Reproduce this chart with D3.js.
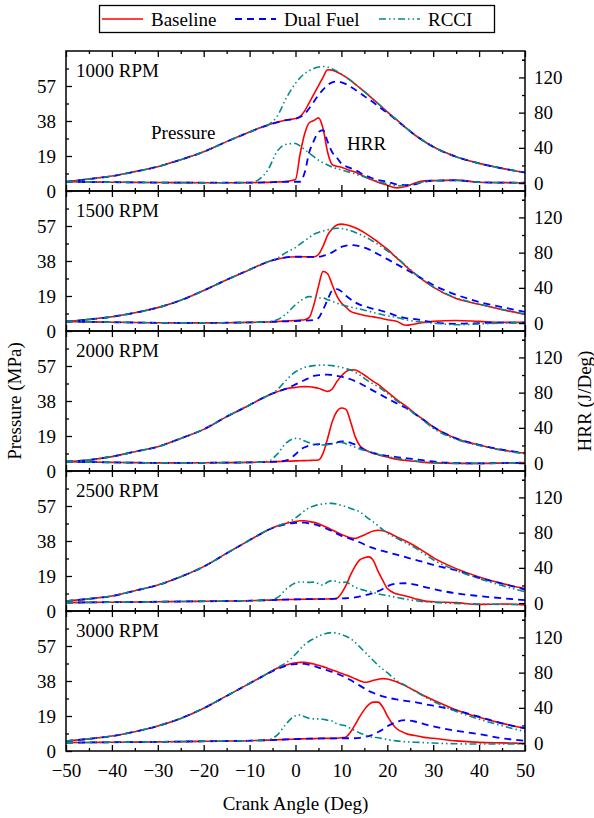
<!DOCTYPE html>
<html lang="en">
<head>
<meta charset="utf-8">
<title>Pressure and HRR</title>
<script src="https://d3js.org/d3.v7.min.js"></script>
<style>
  body { margin: 0; background: #fff; }
  svg text { font-family: "Liberation Serif", "Times New Roman", serif; fill: #000; }
</style>
</head>
<body>
<div id="chart"></div>
<script>
// Crank angle grid (deg)
const crankAngle = [-50,-45,-40,-35,-30,-25,-20,-15,-10,-8,-6,-4,-2,
  0,1,2,3,4,5,6,7,8,9,10,
  11,12,13,14,15,16,17,18,19,20,
  22,24,26,28,30,
  35,40,45,50];

const panelLabels = ["1000 RPM", "1500 RPM", "2000 RPM", "2500 RPM", "3000 RPM"];
const seriesNames = ["Baseline", "Dual Fuel", "RCCI"];
const pressureTicks = [0, 19, 38, 57];
const hrrTicks = [0, 40, 80, 120];
const angleTicks = [-50,-40,-30,-20,-10,0,10,20,30,40,50];

// ---- 1000 RPM ----
const p1000Base = [5.0,6.5,8.1,10.5,13.2,17.0,21.3,26.8,32.0,34.0,35.8,37.3,38.5,
  39.3,40.5,43.5,48.0,52.6,57.1,61.7,65.8,65.6,64.6,63.3,
  61.8,60.0,58.0,56.0,54.0,51.8,49.6,47.4,45.2,43.0,
  38.7,34.4,30.4,27.0,24.0,
  18.6,15.0,12.3,10.0];
const p1000Dual = [5.0,6.5,8.1,10.5,13.2,17.0,21.3,26.8,32.0,34.0,35.8,37.3,38.5,
  39.2,40.2,41.8,44.9,48.5,52.0,55.0,57.5,59.0,59.5,59.0,
  58.0,56.5,55.0,53.3,51.5,49.8,48.0,46.0,44.2,42.4,
  38.5,34.4,30.4,27.0,24.0,
  18.6,15.0,12.3,10.0];
const p1000Rcci = [5.0,6.5,8.1,10.5,13.2,17.0,21.3,26.8,32.0,34.0,35.8,40.5,50.5,
  58.5,61.5,63.8,65.3,66.5,67.3,67.6,67.3,66.3,65.0,63.5,
  61.8,60.0,58.0,56.0,54.0,51.8,49.6,47.4,45.2,43.0,
  38.7,34.4,30.4,27.0,24.0,
  18.6,15.0,12.3,10.0];
const h1000Base = [1.5,1.2,1.0,0.8,0.6,0.5,0.4,0.4,0.5,0.6,0.8,1.2,1.8,
  4.0,33.0,56.0,68.5,71.0,74.0,62.0,35.0,21.0,19.0,18.0,
  16.0,14.0,12.5,10.0,7.5,5.0,3.0,1.0,-0.8,-2.5,
  -5.5,-4.0,0.0,2.5,2.8,
  3.4,1.0,0.5,0.4];
const h1000Dual = [1.5,1.2,1.0,0.8,0.6,0.5,0.4,0.4,0.5,0.6,0.8,1.2,1.5,
  1.5,1.5,12.0,35.0,48.0,58.0,60.0,47.0,35.0,29.0,22.0,
  19.0,17.0,15.0,12.0,9.0,7.0,5.0,3.5,2.5,1.5,
  -1.5,-2.3,-1.5,1.5,2.7,
  3.0,1.0,0.5,0.4];
const h1000Rcci = [1.5,1.2,1.0,0.8,0.6,0.5,0.4,0.4,0.5,4.0,15.0,36.0,44.0,
  45.0,42.0,38.0,34.0,30.0,26.0,23.0,20.5,18.0,16.5,15.0,
  13.5,12.0,10.5,8.5,7.0,5.0,3.5,2.0,0.5,-1.0,
  -3.0,-3.0,-1.0,1.5,2.5,
  3.0,1.0,0.5,0.3];

// ---- 1500 RPM ----
const p1500Base = [5.0,6.3,7.7,9.9,12.7,16.7,22.0,27.8,33.3,35.5,37.6,39.0,40.0,
  40.3,40.3,40.3,40.2,40.2,41.5,46.0,52.0,55.5,57.5,58.0,
  57.7,57.0,56.0,54.8,53.4,51.8,50.0,48.3,46.4,44.4,
  39.8,35.2,31.0,27.2,23.8,
  17.6,14.5,11.6,9.0];
const p1500Dual = [5.0,6.3,7.7,9.9,12.7,16.7,22.0,27.8,33.3,35.5,37.6,39.0,40.0,
  40.3,40.3,40.3,40.2,40.2,40.3,40.8,41.5,42.7,44.2,45.7,
  46.3,46.6,46.5,46.0,45.3,44.3,43.0,41.7,40.4,39.0,
  36.3,33.5,30.7,27.8,25.0,
  19.7,15.8,13.0,10.4];
const p1500Rcci = [5.0,6.3,7.7,9.9,12.7,16.7,22.0,27.8,33.3,35.5,37.6,39.5,42.7,
  45.3,47.2,49.0,50.8,52.5,53.5,54.3,55.0,55.5,55.8,55.7,
  55.2,54.5,53.5,52.5,51.3,50.0,48.5,47.0,45.3,43.5,
  40.0,35.5,31.3,27.4,24.0,
  18.0,14.6,11.7,9.2];
const h1500Base = [1.9,1.4,1.0,0.6,0.3,0.2,0.2,0.4,0.8,1.0,1.3,1.7,2.3,
  3.0,3.4,3.8,6.4,20.8,41.7,58.7,56.0,43.6,31.0,22.7,
  18.0,13.3,11.4,10.0,8.7,7.8,7.0,6.0,5.0,3.8,
  2.0,-2.5,-1.0,0.8,1.9,
  3.0,1.9,0.8,0.8];
const h1500Dual = [1.9,1.4,1.0,0.6,0.3,0.2,0.2,0.4,0.8,1.0,1.3,1.7,2.0,
  2.3,2.5,2.7,3.0,3.5,5.7,15.0,26.5,37.0,38.5,36.0,
  31.0,27.0,23.5,21.0,19.0,17.5,16.0,15.0,13.5,12.0,
  8.3,5.7,4.5,2.7,0.8,
  -0.8,0.0,0.5,0.5];
const h1500Rcci = [1.9,1.4,1.0,0.6,0.3,0.2,0.2,0.4,0.8,1.0,1.5,3.8,10.6,
  20.8,25.0,28.4,30.0,29.5,28.5,28.4,26.5,24.6,22.7,20.8,
  19.5,18.2,17.0,16.0,14.6,13.3,12.0,10.6,9.5,8.3,
  6.4,3.8,1.9,0.8,0.0,
  -1.9,-1.0,0.0,0.5];

// ---- 2000 RPM ----
const p2000Base = [5.1,6.0,7.8,10.5,13.2,17.7,22.6,29.5,35.8,38.5,41.0,43.0,44.7,
  45.4,45.7,45.8,45.7,45.4,44.9,44.0,43.2,44.5,48.5,51.6,
  53.9,55.0,54.8,53.7,52.1,50.3,48.5,47.0,45.0,43.0,
  38.9,35.3,31.3,27.7,24.0,
  17.7,14.1,11.4,9.6];
const p2000Dual = [5.1,6.0,7.8,10.5,13.2,17.7,22.6,29.5,35.8,38.5,41.0,43.0,44.7,
  47.0,48.2,49.4,50.5,51.6,52.0,52.3,52.3,52.1,51.7,51.2,
  50.5,49.8,48.8,47.6,46.3,44.9,43.5,42.2,40.8,39.4,
  36.8,34.3,31.0,27.5,24.0,
  17.7,14.2,11.6,9.8];
const p2000Rcci = [5.1,6.0,7.8,10.5,13.2,17.7,22.6,29.5,35.8,38.5,41.0,44.0,49.4,
  53.9,55.2,56.3,56.8,57.2,57.4,57.5,57.4,57.2,56.8,56.3,
  55.6,54.8,53.6,52.1,50.3,48.5,47.2,45.8,44.0,42.2,
  38.2,34.6,31.0,27.2,23.2,
  17.2,13.8,11.2,9.4];
const h2000Base = [1.5,1.1,0.8,0.5,0.2,0.2,0.3,0.5,0.8,1.0,1.3,1.6,2.0,
  2.5,2.7,2.8,3.0,3.2,3.5,11.0,28.0,47.0,58.5,62.5,
  61.0,47.0,30.0,20.0,15.5,13.0,11.0,9.5,8.0,6.8,
  4.5,3.0,2.0,0.8,0.2,
  -0.3,-0.3,0.0,0.5];
const h2000Dual = [1.5,1.1,0.8,0.5,0.2,0.2,0.3,0.5,0.8,1.0,1.3,1.6,3.0,
  10.0,15.0,18.0,20.0,21.0,21.5,21.5,21.5,22.0,23.5,24.5,
  24.5,23.0,21.0,18.0,15.0,13.0,11.5,10.0,9.0,8.3,
  6.8,5.5,4.5,3.0,1.8,
  0.0,-0.3,0.0,0.5];
const h2000Rcci = [1.5,1.1,0.8,0.5,0.2,0.2,0.3,0.5,0.8,1.0,2.0,10.0,23.0,
  28.0,27.5,25.0,23.0,21.0,20.5,20.5,21.0,22.0,23.0,23.5,
  22.0,20.0,18.0,16.0,14.5,13.0,11.5,10.0,8.5,7.3,
  5.5,4.0,2.5,1.2,0.5,
  -0.3,-0.3,0.0,0.4];

// ---- 2500 RPM ----
const p2500Base = [5.4,6.6,8.1,11.0,14.1,18.6,24.1,31.3,38.5,41.3,44.0,46.1,47.6,
  48.5,49.0,49.0,48.6,48.1,47.3,46.3,45.2,44.0,42.8,41.6,
  40.6,39.7,39.4,40.3,41.3,42.5,43.4,43.8,43.6,42.7,
  40.3,38.0,35.3,32.2,29.0,
  23.0,18.5,14.9,12.2];
const p2500Dual = [5.4,6.6,8.1,11.0,14.1,18.6,24.1,31.3,38.5,41.3,44.0,45.8,47.2,
  47.8,48.0,48.0,47.6,47.2,46.4,45.5,44.4,43.3,42.0,40.8,
  40.0,39.1,38.2,37.3,36.1,35.0,34.1,33.3,32.6,31.9,
  30.6,29.2,27.8,26.5,25.0,
  22.0,18.0,14.9,11.6];
const p2500Rcci = [5.4,6.6,8.1,11.0,14.1,18.6,24.1,31.3,38.5,41.3,44.0,46.1,47.8,
  50.5,52.5,54.5,56.0,57.0,57.7,58.1,58.4,58.4,58.0,57.3,
  56.6,55.7,54.8,53.9,52.0,50.0,48.3,46.2,44.2,42.3,
  39.6,37.0,34.4,31.0,27.8,
  22.0,17.6,13.8,10.4];
const h2500Base = [0.5,0.8,1.0,1.2,1.5,1.8,2.0,2.3,2.7,3.0,3.3,3.6,4.0,
  4.2,4.3,4.4,4.5,4.5,4.6,4.6,4.7,4.8,5.5,11.0,
  20.0,32.0,42.0,49.0,51.5,52.5,48.0,36.0,26.0,16.5,
  10.5,8.0,5.0,2.5,1.5,
  0.5,-1.5,-1.0,-2.0];
const h2500Dual = [0.5,0.8,1.0,1.2,1.5,1.8,2.0,2.3,2.7,3.0,3.3,3.6,4.0,
  4.2,4.3,4.4,4.5,4.5,4.6,4.6,4.7,4.8,5.0,5.3,
  5.5,5.8,6.5,7.5,8.5,10.0,11.5,13.5,16.0,19.0,
  22.0,22.5,21.0,18.5,16.0,
  11.0,8.0,5.5,3.4];
const h2500Rcci = [0.5,0.8,1.0,1.2,1.5,1.8,2.0,2.3,2.7,3.0,3.5,6.0,16.0,
  23.0,24.0,24.0,23.5,23.8,22.0,20.5,24.0,25.5,24.5,23.0,
  24.0,21.0,18.0,16.0,14.5,13.0,12.0,10.5,9.5,8.5,
  6.5,4.5,2.8,1.5,0.8,
  -0.5,-1.0,-1.5,-2.0];

// ---- 3000 RPM ----
const p3000Base = [5.4,6.6,8.1,10.5,13.6,17.7,23.2,29.9,36.7,39.4,42.2,44.9,46.7,
  47.9,48.1,48.1,47.7,47.2,46.5,45.8,44.9,44.0,43.1,42.2,
  41.2,40.3,39.2,38.2,37.3,37.6,38.4,38.9,39.3,39.1,
  37.6,35.3,32.7,30.0,27.7,
  22.3,18.3,15.0,12.3];
const p3000Dual = [5.4,6.6,8.1,10.5,13.6,17.7,23.2,29.9,36.7,39.4,42.2,44.5,46.3,
  47.2,47.4,47.3,46.8,46.1,45.3,44.5,43.7,43.0,42.0,41.0,
  39.8,38.5,37.0,35.5,34.0,32.5,31.5,30.5,29.7,29.0,
  28.0,27.2,26.5,25.5,24.6,
  22.0,18.6,15.0,12.3];
const p3000Rcci = [5.4,6.6,8.1,10.5,13.6,17.7,23.2,29.9,36.7,39.4,42.2,45.2,48.0,
  52.5,55.3,57.7,59.6,61.0,62.3,63.3,64.0,64.3,64.0,63.3,
  62.3,61.0,59.0,56.5,54.0,51.5,49.0,46.5,44.5,42.5,
  38.3,35.5,32.5,29.6,27.0,
  21.5,17.3,13.7,10.5];
const h3000Base = [0.5,0.7,0.9,1.1,1.4,1.7,2.0,2.3,2.7,3.0,3.3,3.7,4.2,
  4.5,4.7,4.9,5.0,5.1,5.2,5.3,5.3,5.3,5.5,6.0,
  7.0,12.5,21.0,30.0,38.0,44.0,46.5,46.5,41.0,31.0,
  16.5,11.0,8.5,6.5,5.5,
  2.5,0.8,0.2,-0.4];
const h3000Dual = [0.5,0.7,0.9,1.1,1.4,1.7,2.0,2.3,2.7,3.0,3.3,3.7,4.2,
  4.5,4.7,4.9,5.0,5.1,5.2,5.3,5.3,5.3,5.4,5.5,
  5.5,5.5,5.5,6.0,7.0,8.0,10.0,12.5,15.5,19.0,
  24.0,26.0,24.5,21.5,19.0,
  14.0,10.2,5.5,2.7];
const h3000Rcci = [0.5,0.7,0.9,1.1,1.4,1.7,2.0,2.3,2.7,3.0,3.8,9.0,22.0,
  31.0,32.0,30.0,28.0,27.5,27.5,27.0,26.0,25.0,22.0,20.5,
  19.5,16.5,14.0,11.5,9.5,7.5,6.5,6.0,5.0,4.0,
  2.5,1.5,1.0,0.5,0.0,
  -0.8,-1.0,-1.0,-1.0];

const pressureSets = [
  [p1000Base, p1000Dual, p1000Rcci],
  [p1500Base, p1500Dual, p1500Rcci],
  [p2000Base, p2000Dual, p2000Rcci],
  [p2500Base, p2500Dual, p2500Rcci],
  [p3000Base, p3000Dual, p3000Rcci]
];
const hrrSets = [
  [h1000Base, h1000Dual, h1000Rcci],
  [h1500Base, h1500Dual, h1500Rcci],
  [h2000Base, h2000Dual, h2000Rcci],
  [h2500Base, h2500Dual, h2500Rcci],
  [h3000Base, h3000Dual, h3000Rcci]
];

// Styles
const colors = ["#ff0000", "#0000ff", "#008b8b"];
const dashes = [null, "7,5", "7,3,1.5,3,1.5,3"];
const widths = [1.6, 1.8, 1.6];
const font = 19;

// Dimensions
const width = 594, height = 818;
const left = 66, right = 525;
const top0 = 51, panelH = 140;

const svg = d3.select("#chart").append("svg")
  .attr("width", width)
  .attr("height", height);

const x = d3.scaleLinear().domain([-50, 50]).range([left, right]);

const line = (yScale) => d3.line()
  .x((d, i) => x(crankAngle[i]))
  .y(d => yScale(d))
  .curve(d3.curveMonotoneX);

panelLabels.forEach((label, p) => {
  const top = top0 + p * panelH;
  const bottom = top + panelH;
  const yP = d3.scaleLinear().domain([0, 76]).range([bottom, top]);
  const yH = d3.scaleLinear().domain([-9, 150]).range([bottom, top]);
  const g = svg.append("g");

  // clip
  g.append("clipPath").attr("id", "clip" + p)
    .append("rect").attr("x", left).attr("y", top)
    .attr("width", right - left).attr("height", panelH);

  const lines = g.append("g").attr("clip-path", `url(#clip${p})`);
  [0, 1, 2].forEach(s => {
    [[pressureSets[p][s], yP], [hrrSets[p][s], yH]].forEach(([vals, sc]) => {
      lines.append("path")
        .datum(vals)
        .attr("d", line(sc))
        .attr("fill", "none")
        .attr("stroke", colors[s])
        .attr("stroke-width", widths[s])
        .attr("stroke-dasharray", dashes[s]);
    });
  });

  // Axes
  const styleAxis = sel => {
    sel.select(".domain").remove();
    sel.selectAll("line").attr("stroke", "#000").attr("stroke-width", 1.3);
    sel.selectAll("text").style("font-size", font + "px")
      .style("font-family", "'Liberation Serif', 'Times New Roman', serif");
  };

  g.append("g").attr("transform", `translate(${left},0)`)
    .call(d3.axisLeft(yP).tickValues(pressureTicks).tickSizeInner(-6).tickSizeOuter(0).tickPadding(10))
    .call(styleAxis);
  g.append("g").attr("transform", `translate(${left},0)`)
    .call(d3.axisLeft(yP).tickValues(pressureTicks.map(v => v + 9.5)).tickSizeInner(-3).tickSizeOuter(0).tickFormat(""))
    .call(styleAxis);

  g.append("g").attr("transform", `translate(${right},0)`)
    .call(d3.axisRight(yH).tickValues(hrrTicks).tickSizeInner(-6).tickSizeOuter(0).tickPadding(9))
    .call(styleAxis);
  g.append("g").attr("transform", `translate(${right},0)`)
    .call(d3.axisRight(yH).tickValues(hrrTicks.map(v => v + 20).concat([140])).tickSizeInner(-3).tickSizeOuter(0).tickFormat(""))
    .call(styleAxis);

  g.append("g").attr("transform", `translate(0,${top})`)
    .call(d3.axisTop(x).tickValues(angleTicks).tickSizeInner(-6).tickSizeOuter(0).tickFormat(""))
    .call(styleAxis);
  g.append("g").attr("transform", `translate(0,${top})`)
    .call(d3.axisTop(x).tickValues(angleTicks.slice(1).map(v => v - 5)).tickSizeInner(-3).tickSizeOuter(0).tickFormat(""))
    .call(styleAxis);

  const isLast = p === panelLabels.length - 1;
  g.append("g").attr("transform", `translate(0,${bottom})`)
    .call(d3.axisBottom(x).tickValues(angleTicks).tickSizeInner(-6).tickSizeOuter(0).tickPadding(13)
      .tickFormat(isLast ? d3.format("d") : ""))
    .call(styleAxis);
  g.append("g").attr("transform", `translate(0,${bottom})`)
    .call(d3.axisBottom(x).tickValues(angleTicks.slice(1).map(v => v - 5)).tickSizeInner(-3).tickSizeOuter(0).tickFormat(""))
    .call(styleAxis);

  // Frame
  g.append("rect")
    .attr("x", left).attr("y", top)
    .attr("width", right - left).attr("height", panelH)
    .attr("fill", "none").attr("stroke", "#000").attr("stroke-width", 1.5);

  g.append("text")
    .attr("x", left + 10).attr("y", top + 26)
    .style("font-size", font + "px")
    .text(label);
});

// Annotations in the top panel
svg.append("text").attr("x", 151).attr("y", 139).style("font-size", font + "px").text("Pressure");
svg.append("text").attr("x", 347).attr("y", 150).style("font-size", font + "px").text("HRR");

// Axis titles
svg.append("text")
  .attr("transform", `translate(21,${top0 + panelH * 2.5}) rotate(-90)`)
  .attr("text-anchor", "middle")
  .style("font-size", font + "px")
  .text("Pressure (MPa)");
svg.append("text")
  .attr("transform", `translate(591,${top0 + panelH * 2.5}) rotate(-90)`)
  .attr("text-anchor", "middle")
  .style("font-size", font + "px")
  .text("HRR (J/Deg)");
svg.append("text")
  .attr("x", (left + right) / 2).attr("y", 810)
  .attr("text-anchor", "middle")
  .style("font-size", font + "px")
  .text("Crank Angle (Deg)");

// Legend
const legend = svg.append("g");
legend.append("rect")
  .attr("x", 99.5).attr("y", 5.5).attr("width", 395).attr("height", 27)
  .attr("fill", "#fff").attr("stroke", "#000").attr("stroke-width", 1.3);
const legendX = [102, 235, 379];
seriesNames.forEach((name, s) => {
  legend.append("line")
    .attr("x1", legendX[s]).attr("x2", legendX[s] + 41)
    .attr("y1", 19).attr("y2", 19)
    .attr("stroke", colors[s])
    .attr("stroke-width", widths[s])
    .attr("stroke-dasharray", dashes[s]);
  legend.append("text")
    .attr("x", legendX[s] + 49).attr("y", 25.5)
    .style("font-size", font + "px")
    .text(name);
});
</script>
</body>
</html>
